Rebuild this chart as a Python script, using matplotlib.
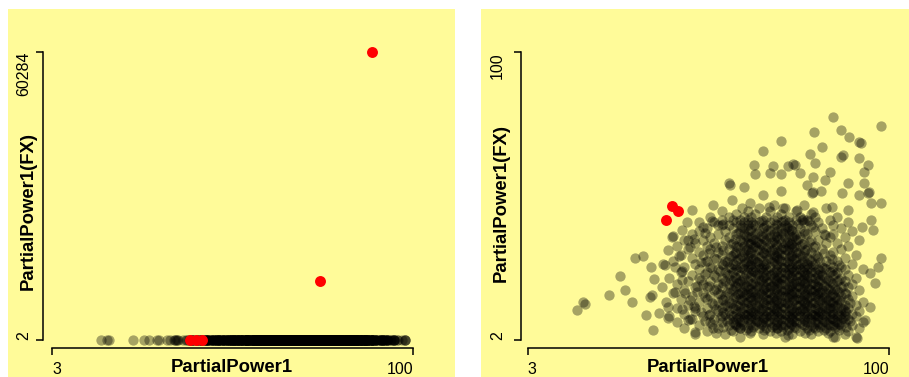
import matplotlib
matplotlib.use('Agg')
import matplotlib.pyplot as plt
from matplotlib.patches import Rectangle

plt.rcParams['font.family'] = ['Liberation Sans', 'DejaVu Sans']

W, H, DPI = 909, 377, 100

# ---------------- data ----------------
# highlighted (red) points: PartialPower1, PartialPower1(FX)
red_pp1 = [40.0, 41.8, 43.2, 75.0, 89.0]
red_fx = [42.8, 47.5, 45.8, 12350, 60284]

# sparse outer points
outer_pp1 = [84.8, 97.9, 79.9, 87.0, 89.3, 92.0, 71.0, 81.9, 66.0, 78.6, 87.0, 92.0, 94.2, 80.1,
             74.7, 72.9, 63.8, 68.9, 68.0, 64.0, 71.0, 76.0, 84.1, 79.6, 93.1, 77.8, 82.7, 89.0,
             93.1, 57.0, 61.1, 71.0, 66.2, 79.6, 81.8, 94.2, 87.2, 57.7, 62.6, 91.8, 97.9, 95.0,
             52.8, 55.0, 47.0, 67.6, 71.6, 75.2, 79.6, 84.5, 89.0, 60.4, 76.5, 95.0, 45.6, 50.1,
             55.0, 41.6, 44.3, 46.1, 95.7, 92.6, 82.8, 97.9, 97.0, 94.8, 96.1, 94.8, 93.5, 91.3,
             85.4, 72.9, 69.8, 60.0, 52.8, 47.9, 36.7, 40.7, 34.7, 38.1, 40.7, 46.1, 31.1, 35.9,
             29.1, 27.8, 24.8, 18.4, 16.1, 31.8, 34.0, 36.1, 36.9, 38.9, 39.8, 40.7, 42.5, 44.3,
             45.2, 47.9, 17.8, 36.3, 92.4, 87.5, 74.2, 57.4, 79.2, 94.6, 76.8, 55.4, 41.9, 82.4,
             39.4, 46.5, 43.5, 46.5, 49.5, 44.5, 48.5, 42.5, 46.5, 50.5, 47.5, 52.5, 44.5]
outer_fx = [77.9, 74.7, 72.8, 73.4, 71.1, 69.4, 69.6, 67.7, 66.4, 65.2, 64.3, 64.0, 61.5, 62.1,
            61.7, 61.3, 61.7, 61.3, 58.9, 58.4, 58.4, 58.7, 59.2, 57.5, 59.2, 54.7, 56.4, 55.5,
            55.3, 55.3, 53.9, 52.8, 51.3, 52.4, 52.8, 51.9, 51.9, 49.6, 48.5, 51.3, 48.5, 48.5,
            47.9, 46.0, 46.2, 47.3, 46.8, 46.2, 45.6, 47.3, 46.2, 46.8, 42.8, 42.8, 42.2, 40.5,
            41.1, 37.1, 39.4, 36.0, 39.4, 40.5, 37.7, 29.8, 27.0, 24.7, 21.3, 13.3, 8.8, 2.6,
            3.1, 3.7, 6.0, 6.0, 6.0, 4.8, 5.4, 9.4, 10.5, 11.1, 13.3, 8.8, 15.0, 16.7,
            19.0, 23.8, 17.3, 14.2, 12.2, 29.8, 30.6, 26.9, 22.6, 20.1, 27.5, 32.6, 26.9, 22.4,
            17.9, 12.8, 14.8, 17.2, 69.0, 64.8, 62.0, 54.8, 52.0, 52.3, 43.3, 41.6, 37.5, 38.1,
            27.9, 9.3, 30.5, 33.5, 28.5, 25.5, 20.5, 18.5, 15.5, 38.5, 36.5, 42.5, 12.5]

# dense core: FX level and the PartialPower1 values read at that level
fx_levels = list(range(3, 49))
pp1_at_level = [
    [60, 72, 85, 91],
    [48, 56, 66, 74, 79, 88],
    [51, 58, 63, 68, 71, 76, 81, 84, 89],
    [45, 54, 60, 62, 65, 67, 70, 73, 75, 78, 80, 83, 86, 92],
    [49, 57, 59, 61, 64, 66, 69, 71, 72, 74, 77, 79, 82, 84, 85, 87, 90],
    [43, 52, 55, 58, 60, 63, 65, 67, 68, 70, 73, 75, 76, 78, 80, 81, 83, 86, 88, 93],
    [47, 53, 57, 59, 61, 62, 64, 66, 69, 71, 72, 74, 77, 79, 82, 84, 85, 87, 89],
    [41, 50, 55, 58, 60, 63, 65, 67, 68, 70, 73, 75, 76, 78, 80, 81, 83, 86, 88, 91],
    [45, 52, 56, 59, 61, 62, 64, 66, 69, 71, 72, 74, 77, 79, 80, 82, 84, 85, 87, 90],
    [48, 54, 57, 60, 63, 65, 67, 68, 70, 73, 75, 76, 78, 81, 83, 86, 88, 92],
    [43, 51, 55, 58, 61, 62, 64, 66, 69, 71, 72, 74, 77, 79, 80, 82, 84, 85, 87, 89],
    [46, 53, 56, 59, 60, 63, 65, 67, 68, 70, 73, 75, 76, 78, 81, 83, 86, 88, 91],
    [40, 49, 54, 57, 61, 62, 64, 66, 69, 71, 72, 74, 77, 79, 80, 82, 84, 85, 87, 93],
    [44, 51, 55, 58, 60, 63, 65, 67, 68, 70, 73, 75, 76, 78, 81, 83, 86, 89],
    [47, 52, 56, 59, 61, 64, 66, 69, 71, 72, 74, 77, 79, 80, 82, 84, 87, 90],
    [42, 50, 54, 57, 60, 62, 63, 65, 67, 68, 70, 73, 75, 76, 78, 81, 83, 85, 88],
    [45, 53, 58, 61, 64, 66, 69, 71, 72, 74, 77, 79, 80, 82, 84, 86, 92],
    [48, 51, 55, 59, 60, 62, 65, 67, 68, 70, 73, 75, 76, 78, 81, 83, 87, 89],
    [43, 50, 54, 57, 61, 63, 64, 66, 69, 71, 72, 74, 77, 79, 80, 82, 85, 90],
    [46, 52, 56, 58, 60, 62, 65, 67, 68, 70, 73, 75, 76, 78, 81, 84, 86, 88],
    [41, 49, 55, 59, 61, 64, 66, 69, 71, 72, 74, 77, 79, 80, 83, 87, 91],
    [47, 53, 57, 60, 63, 65, 67, 68, 70, 73, 75, 76, 78, 81, 82, 85, 89],
    [44, 51, 56, 58, 62, 64, 66, 69, 71, 72, 74, 77, 79, 80, 84, 86],
    [49, 54, 59, 61, 63, 65, 67, 70, 73, 75, 76, 78, 81, 83, 88, 93],
    [45, 52, 57, 60, 62, 64, 66, 68, 71, 72, 74, 77, 79, 82, 85, 87],
    [48, 55, 58, 61, 63, 65, 67, 70, 73, 75, 76, 78, 80, 84, 90],
    [42, 51, 56, 59, 62, 64, 66, 69, 71, 72, 74, 77, 79, 83, 86],
    [47, 53, 57, 60, 61, 63, 65, 68, 70, 73, 75, 78, 81, 88],
    [44, 50, 55, 58, 62, 64, 67, 69, 71, 72, 74, 76, 80, 84, 91],
    [49, 54, 59, 61, 63, 66, 68, 70, 73, 75, 77, 79, 85],
    [46, 52, 57, 60, 62, 65, 67, 69, 71, 72, 74, 78, 82, 87],
    [43, 51, 55, 59, 61, 64, 66, 70, 73, 75, 76, 80, 89],
    [48, 53, 58, 62, 63, 65, 68, 71, 72, 74, 77, 83, 86],
    [45, 50, 56, 60, 61, 64, 67, 69, 73, 75, 79, 81, 92],
    [52, 57, 62, 63, 66, 68, 70, 72, 74, 76, 84, 88],
    [47, 54, 59, 61, 64, 67, 69, 71, 73, 75, 78, 85],
    [49, 56, 60, 62, 65, 68, 70, 72, 74, 77, 80, 90],
    [51, 58, 61, 63, 66, 69, 71, 73, 76, 82, 87],
    [54, 57, 60, 62, 64, 67, 70, 72, 74, 79, 85],
    [49, 53, 59, 61, 63, 65, 68, 71, 73, 77, 81, 89],
    [55, 58, 60, 62, 66, 69, 72, 75, 78, 84],
    [52, 57, 61, 63, 67, 70, 73, 76, 80, 86],
    [59, 64, 71, 79],
    [62, 68, 75],
    [65, 72, 83],
    [69, 77],
]

# in-between FX levels of the dense core
fx_half_levels = [4.5 + k for k in range(39)]
pp1_at_half_level = [
    [53.5, 62.5, 69.5, 77.5, 83.5],
    [57.5, 61.5, 66.5, 72.5, 78.5, 82.5, 86.5],
    [55.5, 59.5, 63.5, 68.5, 71.5, 74.5, 79.5, 81.5, 85.5, 88.5],
    [52.5, 58.5, 62.5, 65.5, 69.5, 73.5, 76.5, 80.5, 83.5, 86.5],
    [50.5, 56.5, 60.5, 64.5, 67.5, 71.5, 74.5, 77.5, 82.5, 85.5, 89.5],
    [54.5, 59.5, 62.5, 66.5, 70.5, 73.5, 78.5, 80.5, 84.5, 87.5],
    [51.5, 57.5, 61.5, 64.5, 68.5, 72.5, 75.5, 79.5, 82.5, 86.5],
    [49.5, 55.5, 60.5, 63.5, 67.5, 70.5, 74.5, 77.5, 81.5, 84.5, 88.5],
    [53.5, 58.5, 62.5, 65.5, 69.5, 73.5, 76.5, 80.5, 83.5, 87.5],
    [47.5, 56.5, 59.5, 64.5, 68.5, 71.5, 75.5, 78.5, 82.5, 85.5],
    [52.5, 57.5, 61.5, 66.5, 70.5, 72.5, 77.5, 79.5, 84.5, 89.5],
    [55.5, 60.5, 63.5, 67.5, 69.5, 74.5, 76.5, 81.5, 83.5, 86.5],
    [50.5, 58.5, 62.5, 64.5, 68.5, 72.5, 75.5, 78.5, 82.5, 85.5],
    [54.5, 59.5, 61.5, 65.5, 70.5, 73.5, 77.5, 80.5, 84.5, 88.5],
    [48.5, 56.5, 60.5, 63.5, 67.5, 71.5, 74.5, 79.5, 81.5, 86.5],
    [53.5, 57.5, 62.5, 66.5, 69.5, 72.5, 76.5, 78.5, 83.5, 85.5],
    [51.5, 58.5, 61.5, 64.5, 68.5, 73.5, 75.5, 80.5, 82.5, 87.5],
    [55.5, 59.5, 63.5, 67.5, 70.5, 74.5, 77.5, 79.5, 84.5],
    [49.5, 57.5, 60.5, 65.5, 69.5, 71.5, 76.5, 81.5, 83.5, 86.5],
    [53.5, 58.5, 62.5, 66.5, 70.5, 73.5, 75.5, 78.5, 82.5],
    [50.5, 56.5, 61.5, 64.5, 68.5, 72.5, 77.5, 80.5, 85.5],
    [54.5, 59.5, 63.5, 67.5, 69.5, 74.5, 76.5, 81.5, 84.5],
    [52.5, 57.5, 60.5, 65.5, 71.5, 73.5, 78.5, 82.5],
    [55.5, 58.5, 62.5, 66.5, 69.5, 75.5, 79.5, 86.5],
    [50.5, 56.5, 61.5, 64.5, 68.5, 72.5, 76.5, 81.5],
    [53.5, 59.5, 63.5, 67.5, 70.5, 74.5, 78.5, 84.5],
    [57.5, 60.5, 65.5, 69.5, 73.5, 76.5, 80.5],
    [51.5, 58.5, 62.5, 66.5, 70.5, 75.5, 82.5],
    [55.5, 61.5, 64.5, 68.5, 72.5, 77.5],
    [53.5, 59.5, 63.5, 67.5, 71.5, 74.5, 79.5],
    [57.5, 62.5, 65.5, 69.5, 73.5, 76.5],
    [60.5, 64.5, 68.5, 72.5, 78.5],
    [58.5, 63.5, 66.5, 70.5, 75.5],
    [61.5, 65.5, 69.5, 74.5],
    [59.5, 64.5, 71.5, 77.5],
    [62.5, 67.5, 73.5],
    [60.5, 66.5, 72.5, 79.5],
    [63.5, 69.5, 75.5],
    [65.5, 71.5, 78.5],
]

x_ticks = [3, 100]
left_y_ticks = [2, 60284]
right_y_ticks = [2, 100]
x_label = "PartialPower1"
y_label = "PartialPower1(FX)"

# ---------------- build series ----------------
pp1 = list(outer_pp1)
fx = list(outer_fx)
for lev, xs in zip(fx_levels, pp1_at_level):
    pp1.extend(xs)
    fx.extend([lev] * len(xs))
for lev, xs in zip(fx_half_levels, pp1_at_half_level):
    pp1.extend(xs)
    fx.extend([lev] * len(xs))

# ---------------- figure ----------------
fig = plt.figure(figsize=(W / DPI, H / DPI), dpi=DPI, facecolor='white')
YELLOW = '#FFFB99'


def fx_(px):
    return px / W


def fy_(py):
    return 1 - py / H


for (l, t, r, b) in [(8, 9, 455, 377), (481, 9, 909, 377)]:
    fig.patches.append(Rectangle((fx_(l), fy_(b)), (r - l) / W, (b - t) / H,
                                 transform=fig.transFigure, facecolor=YELLOW,
                                 edgecolor='none', zorder=-10))


def make_panel(xpx, ypx, xv, yv, spine_x_px, spine_y_px, yticks, ytick_xc, ylab_xc, ylab_yc):
    # xpx: pixel positions of xv[0], xv[1]; ypx: pixel rows of yv[0] (bottom), yv[1] (top)
    left, right = xpx[0] - 22, xpx[1] + 22
    top, bottom = ypx[1] - 22, ypx[0] + 16
    sx = (xv[1] - xv[0]) / (xpx[1] - xpx[0])
    sy = (yv[1] - yv[0]) / (ypx[0] - ypx[1])
    ax = fig.add_axes([fx_(left), fy_(bottom), (right - left) / W, (bottom - top) / H])
    ax.set_zorder(5)
    ax.set_xlim(xv[0] - (xpx[0] - left) * sx, xv[1] + (right - xpx[1]) * sx)
    ax.set_ylim(yv[0] - (bottom - ypx[0]) * sy, yv[1] + (ypx[1] - top) * sy)
    ax.patch.set_visible(False)
    for s in ['top', 'right']:
        ax.spines[s].set_visible(False)
    ax.spines['left'].set_position(('data', xv[0] + (spine_x_px - xpx[0]) * sx))
    ax.spines['bottom'].set_position(('data', yv[0] - (spine_y_px - ypx[0]) * sy))
    ax.spines['left'].set_bounds(yv[0], yv[1])
    ax.spines['bottom'].set_bounds(xv[0], xv[1])
    for s in ['left', 'bottom']:
        ax.spines[s].set_linewidth(1.1)
    ax.set_xticks(x_ticks)
    ax.set_yticks(yticks)
    ax.tick_params(direction='out', length=4.8, width=1.1, labelleft=False, labelbottom=False)

    tick_fs = 11.5
    fig.text(fx_(ytick_xc), fy_(ypx[1]), f"{yticks[1]}", rotation=90, ha='center', va='top',
             fontsize=tick_fs)
    fig.text(fx_(ytick_xc), fy_(ypx[0]), f"{yticks[0]}", rotation=90, ha='center', va='bottom',
             fontsize=tick_fs)
    fig.text(fx_(xpx[0]), fy_(374), f"{x_ticks[0]}", ha='left', va='baseline', fontsize=tick_fs)
    fig.text(fx_(xpx[1]), fy_(374.5), f"{x_ticks[1]}", ha='right', va='baseline', fontsize=tick_fs)
    fig.text(fx_((xpx[0] + xpx[1]) / 2 - 1), fy_(372.5), x_label, ha='center', va='baseline',
             fontsize=13.3, fontweight='bold')
    fig.text(fx_(ylab_xc), fy_(ylab_yc), y_label, rotation=90, ha='center', va='center',
             fontsize=13.3, fontweight='bold')
    return ax


axL = make_panel((52, 413), (340, 52), (3, 100), (2, 60284), 43, 348,
                 left_y_ticks, 24, 28.5, 211)
axR = make_panel((527.7, 889.3), (340, 52), (3, 100), (2, 100), 520.7, 348,
                 right_y_ticks, 497.5, 500.8, 203.5)

for ax in (axL, axR):
    ax.scatter(pp1, fx, s=55, c='black', alpha=0.35, linewidths=0, zorder=2)
    ax.scatter(red_pp1, red_fx, s=62, c='#FF0000', linewidths=0, zorder=3)

fig.savefig('out.png', dpi=DPI, facecolor='white')
